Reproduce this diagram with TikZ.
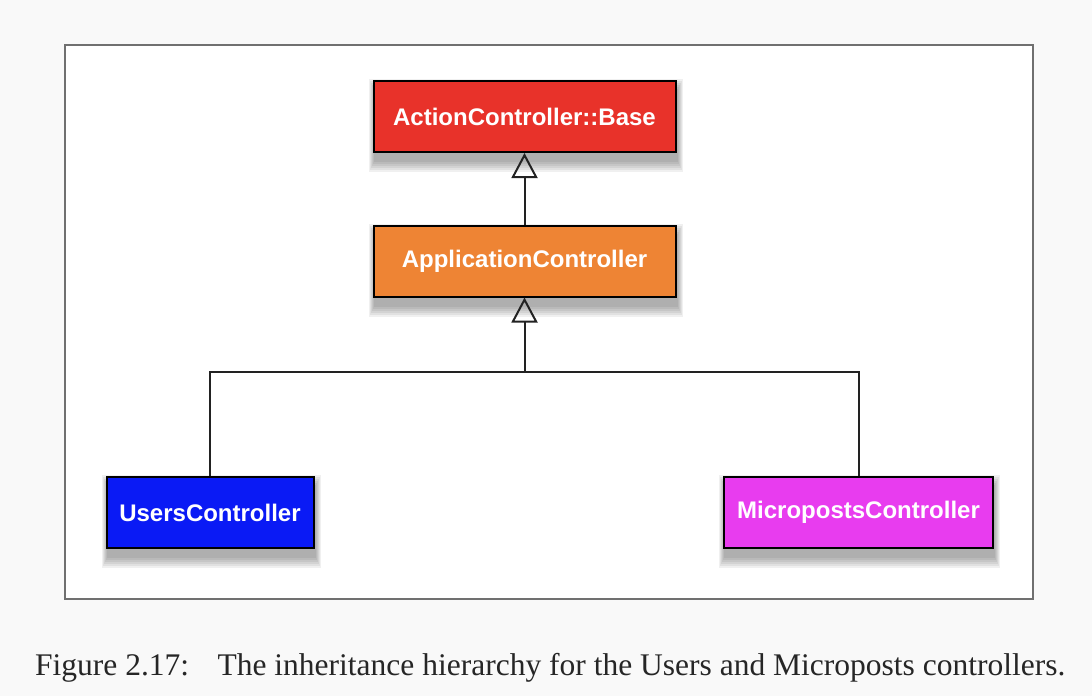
\documentclass[tikz,border=0pt]{standalone}
\usepackage{fontspec}
\setmainfont{Liberation Serif}
\newfontfamily\boxfont{Liberation Sans}
\usetikzlibrary{arrows.meta}
\pgfdeclarelayer{back}
\pgfdeclarelayer{shade}
\pgfsetlayers{back,shade,main}
\definecolor{bgpage}{HTML}{F9F9F9}
\definecolor{framegray}{HTML}{707070}
\definecolor{cred}{HTML}{E8322A}
\definecolor{corange}{HTML}{EE8434}
\definecolor{cblue}{HTML}{0A1AF5}
\definecolor{cmag}{HTML}{E83CEF}
\definecolor{linec}{HTML}{222222}
\tikzset{
  cls/.style={draw=black, line width=2pt, minimum height=71pt, inner sep=0pt,
    text=white, font=\boxfont\bfseries\fontsize{24}{24}\selectfont},
  conn/.style={draw=linec, line width=2pt},
  inherit/.style={conn, -{Triangle[open, width=26pt, length=25pt, line width=2pt]}},
  shadowpiece/.style={fill=black, opacity=0.06}
}
\begin{document}
\begin{tikzpicture}[x=1pt,y=-1pt]
\begin{pgfonlayer}{back}
\fill[bgpage] (0,0) rectangle (1092,696);
\draw[framegray, fill=white, line width=2pt] (65,45) rectangle (1033,599);
\end{pgfonlayer}
\useasboundingbox (0,0) rectangle (1092,696);
\node[cls, fill=cred, minimum width=302pt] (acb) at (524.5,116.5) {ActionController::Base};
\node[cls, fill=corange, minimum width=302pt] (app) at (524.5,261) {ApplicationController};
\node[cls, fill=cblue, minimum width=207pt] (users) at (210,512.5) {UsersController};
\node[cls, fill=cmag, minimum width=269pt] (micro) at (858.5,512.5) {MicropostsController};
\begin{pgfonlayer}{shade}
\foreach \n in {acb,app,users,micro}{
  \foreach \r in {10,8,6,4,2,0}{
    \fill[shadowpiece] ([xshift=-0.5*\r pt+1pt, yshift=\r pt-9pt]\n.north west) rectangle ([xshift=0.5*\r pt+1pt, yshift=-\r pt-9pt]\n.south east);
  }
}
\end{pgfonlayer}
\coordinate (j) at (524.5,372);
\draw[inherit] (app.north) -- (acb.south);
\draw[conn] (users.north) |- (j) -| (micro.north);
\draw[inherit] (j) -- (app.south);
\node[anchor=base west, inner sep=0pt, text=black!85] (cap) at (35,675) {\resizebox{1030pt}{!}{Figure 2.17:\hspace{0.9em}The inheritance hierarchy for the Users and Microposts controllers.}};
\end{tikzpicture}
\end{document}
